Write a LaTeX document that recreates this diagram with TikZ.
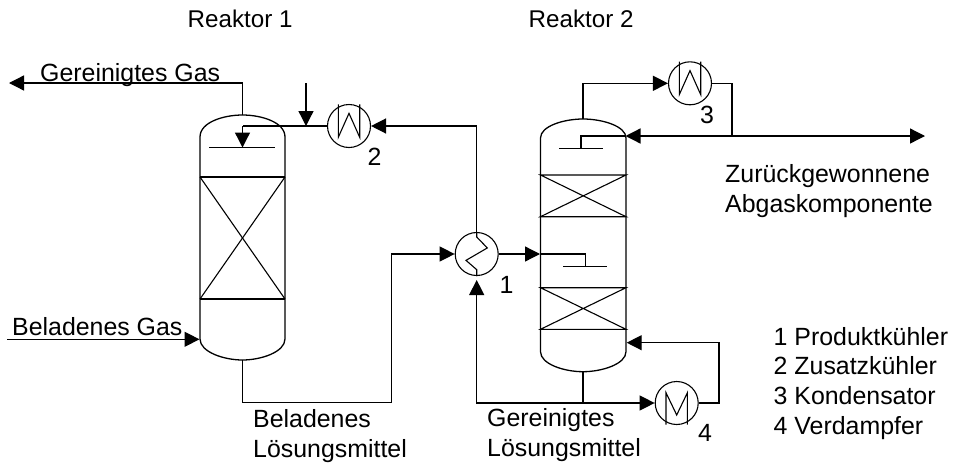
\documentclass[tikz,border=0pt]{standalone}
\usepackage{fontspec}
\setmainfont{Liberation Sans}
\usetikzlibrary{arrows.meta, calc}

\begin{document}
\begin{tikzpicture}[x=1pt, y=-1pt,
    pipe/.style={line width=1.3pt},
    flow/.style={line width=1.3pt, -{Triangle[length=15pt, width=15pt]}},
    thinpipe/.style={line width=1.1pt},
    cooler/.style={circle, draw, line width=1.1pt, inner sep=0pt, minimum size=43pt},
    label/.style={anchor=base west, inner sep=0pt, align=left, font=\fontsize{24.9}{30}\selectfont},
    title/.style={anchor=base west, inner sep=0pt, font=\fontsize{24.2}{30}\selectfont}]
    \useasboundingbox (0, 0) rectangle (954, 464);

    % Heat exchangers
    \node[cooler] (K1) at (476.7, 254) {};
    \node[cooler] (K2) at (349, 126) {};
    \node[cooler] (K3) at (690, 83.3) {};
    \node[cooler] (K4) at (676.7, 403) {};

    % Coil symbols inside the exchangers
    \draw[thinpipe] (K1.north) -- ++(0, 5) -- ++(10.6, 11) -- ++(-21.3, 12.4) -- ++(10.7, 9.3) -- (K1.south);
    \foreach \cooler in {K2, K3} {
        \draw[thinpipe, shift={(\cooler)}] (-10.7, -21.7) -- (-10.7, 11.3) -- (0, -12.7) -- (10.7, 11.3) -- (10.7, -21.7);
    }
    \draw[thinpipe, shift={(K4)}] (-10.7, 21.7) -- (-10.7, -10.3) -- (0, 12) -- (10.7, -10.3) -- (10.7, 21.7);

    % Reactor 1
    \coordinate (R1top) at (242.5, 115);
    \coordinate (R1bot) at (242.5, 360);
    \draw[pipe] (200, 137) .. controls (200, 122) and (224, 115) .. (R1top)
        .. controls (261, 115) and (285, 122) .. (285, 137)
        -- (285, 339) .. controls (285, 352) and (261, 360) .. (R1bot)
        .. controls (224, 360) and (200, 352) .. (200, 339) -- cycle;
    \draw[pipe] (200, 177) -- (285, 177);
    \draw[thinpipe] (200, 299) -- (285, 299);
    \draw[thinpipe] (200, 177) -- (285, 299);
    \draw[thinpipe] (285, 177) -- (200, 299);
    \coordinate (R1spray) at (242.5, 147.5);
    \draw[thinpipe] (209, 147.5) -- (275, 147.5);

    % Reactor 2
    \coordinate (R2top) at (583, 119);
    \coordinate (R2bot) at (583, 371.7);
    \draw[pipe] (540.5, 138) .. controls (540.5, 126) and (564, 119) .. (R2top)
        .. controls (602, 119) and (626, 126) .. (626, 138)
        -- (626, 351.7) .. controls (626, 364) and (602, 371.7) .. (R2bot)
        .. controls (564, 371.7) and (540.5, 364) .. (540.5, 351.7) -- cycle;
    \foreach \ya/\yb in {175/216.7, 287.7/329.3} {
        \draw[thinpipe] (540.5, \ya) -- (626, \ya) -- (540.5, \yb) -- (626, \yb) -- cycle;
    }
    \coordinate (R2dist1) at (581, 148.7);
    \coordinate (R2dist2) at (585.7, 266.7);
    \draw[thinpipe] (559, 148.7) -- (603, 148.7);
    \draw[thinpipe] (563, 266.7) -- (607, 266.7);

    % Gas streams of reactor 1
    \coordinate (GasOut) at (9, 83);
    \coordinate (GasIn) at (7, 339.3);
    \coordinate (Makeup) at (306, 83);
    \coordinate (R1feed) at (242.5, 126);
    \draw[flow] (R1top) |- (GasOut);
    \draw[flow] (GasIn) -- (199.5, 339.3);
    \draw[flow] (Makeup) -- (306, 126);
    \draw[pipe] (K2.west) -- (R1feed);
    \draw[flow] (R1feed) -- (R1spray);

    % Solvent loop
    \draw[flow] (R1bot) |- (391.5, 402.7) |- (K1.west);
    \draw[flow] (K1.north) |- (K2.east);
    \draw[flow] (K1.east) -- (540, 254);
    \draw[pipe] (540, 254) -| (R2dist2);
    \coordinate (BotJoin) at (583, 403);
    \draw[pipe] (R2bot) -- (BotJoin);
    \draw[flow] (BotJoin) -| (476.7, 280);
    \draw[flow] (BotJoin) -- (K4.west);
    \draw[flow] (K4.east) -| (719, 342.7) -- (626.7, 342.7);

    % Condenser loop
    \coordinate (Split) at (732, 136);
    \draw[flow] (R2top) |- (K3.west);
    \draw[pipe] (K3.east) -| (Split);
    \draw[flow] (Split) -- (625.5, 136);
    \draw[flow] (Split) -- (925, 136);
    \draw[pipe] (626, 136) -- (581, 136) -- (R2dist1);

    % Labels
    \node[title] (L1) at (187.5, 27.7) {Reaktor 1};
    \node[title] (L2) at (528.5, 27.7) {Reaktor 2};
    \node[label] (L3) at (40, 81) {Gereinigtes Gas};
    \node[label] (L4) at (12, 335) {Beladenes Gas};
    \node[label] (L5) at (253, 427.7) {Beladenes};
    \node[label] (L6) at (253, 457.7) {Lösungsmittel};
    \node[label] (L7) at (487, 426.7) {Gereinigtes};
    \node[label] (L8) at (487, 456.7) {Lösungsmittel};
    \node[label] (L9) at (725, 182.7) {Zurückgewonnene};
    \node[label] (L10) at (725, 212.7) {Abgaskomponente};
    \node[label] (N1) at (499.5, 293) {1};
    \node[label] (N2) at (367.5, 165) {2};
    \node[label] (N3) at (700, 123) {3};
    \node[label] (N4) at (698, 441.7) {4};
    \node[label] (T1) at (773.5, 345) {1 Produktkühler};
    \node[label] (T2) at (773.5, 374.5) {2 Zusatzkühler};
    \node[label] (T3) at (773.5, 404) {3 Kondensator};
    \node[label] (T4) at (773.5, 434) {4 Verdampfer};
\end{tikzpicture}
\end{document}
